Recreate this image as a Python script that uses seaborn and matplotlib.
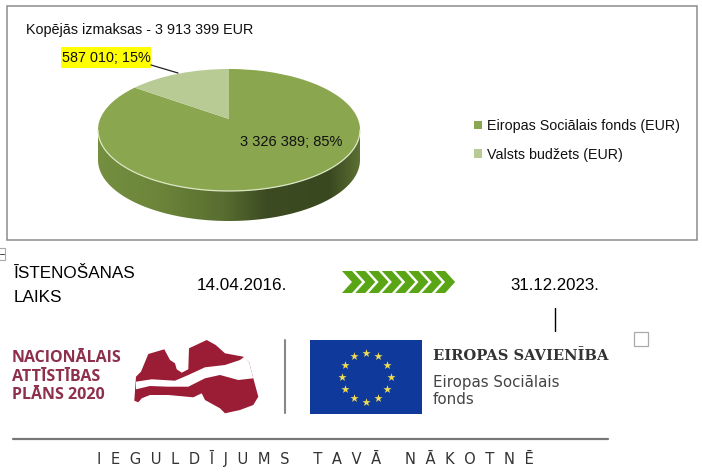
import numpy as np
import matplotlib
matplotlib.use('Agg')
import matplotlib.pyplot as plt
import seaborn as sns
from matplotlib.colors import LinearSegmentedColormap
from matplotlib.patches import Polygon, Rectangle
from matplotlib.transforms import Transform

# chart data
categories = ['Eiropas Sociālais fonds (EUR)', 'Valsts budžets (EUR)']
values = [3326389, 587010]
value_labels = ['3 326 389; 85%', '587 010; 15%']
total_label = 'Kopējās izmaksas - 3 913 399 EUR'
pie_colors = ['#8AA64E', '#B9CB95']

# pie geometry in image pixels
cx, cy = 229, 130
rx, ry = 131, 61
depth = 30


class PieTilt(Transform):
    # perspective of a unit circle, far side of the pie gets smaller
    input_dims = 2
    output_dims = 2
    k = 0.18

    def transform_non_affine(self, xy):
        xy = np.asarray(xy, dtype=float)
        u, v = xy[:, 0], xy[:, 1]
        w = 1 + self.k * v
        return np.column_stack([cx + 128.9 * u / w, cy - (61 * v + 11) / w])


sns.set_theme(style='white')
plt.rcParams['font.family'] = ['Liberation Sans', 'DejaVu Sans']

fig = plt.figure(figsize=(7.02, 4.72), dpi=100)
ax = fig.add_axes([0, 0, 1, 1])

wedges, _ = ax.pie(values, colors=pie_colors, startangle=90, counterclock=False)
ax.set_aspect('auto')
ax.set_xlim(0, 702)
ax.set_ylim(472, 0)
ax.axis('off')
for w in wedges:
    w.set_transform(PieTilt() + ax.transData)
    w.set_zorder(3)
    w.set_linewidth(0)

# frame around the chart
ax.add_patch(Rectangle((6.5, 5.5), 690, 234, fc='white', ec='#8C8C8C', lw=1.1, zorder=0))

# side of the pie
t = np.linspace(0, np.pi, 100)
ex = cx + rx * np.cos(t)
ey = cy + ry * np.sin(t)
band = np.column_stack([np.r_[ex, ex[::-1]], np.r_[ey, ey[::-1] + depth]])
side_cmap = LinearSegmentedColormap.from_list(
    'side', [(0, '#748F40'), (0.225, '#6C853A'), (0.48, '#586D30'), (0.645, '#3C4B22'),
             (0.885, '#3A4820'), (1, '#5B7033')])
side = ax.imshow(np.linspace(0, 1, 256)[None, :], cmap=side_cmap, aspect='auto',
                 extent=[cx - rx, cx + rx, cy + ry + depth, cy], zorder=2)
side.set_clip_path(Polygon(band, transform=ax.transData))
ax.set_xlim(0, 702)
ax.set_ylim(472, 0)
ax.plot(ex, ey, color='#DCE6C4', lw=0.9, zorder=4)

ax.text(26, 30, total_label, fontsize=10.4, color='#111111', va='center', zorder=5)
ax.text(240, 142, value_labels[0], fontsize=10.5, color='#111111', va='center', zorder=5)
ax.add_patch(Rectangle((61, 47), 90, 21, fc='#FFFF00', ec='none', zorder=5))
ax.text(62, 58, value_labels[1], fontsize=10.4, color='#111111', va='center', zorder=6)
ax.plot([151, 178], [65, 73], color='#222222', lw=0.9, zorder=5)

ax.legend(wedges, categories, loc='upper left', bbox_to_anchor=(474 / 702, 1 - 119 / 472),
          frameon=False, fontsize=10.3, handlelength=0.55, handleheight=0.55,
          handletextpad=0.35, labelspacing=1.03, borderpad=0, borderaxespad=0,
          labelcolor='#111111')

# timeline
ax.text(14, 273, 'ĪSTENOŠANAS', fontsize=12.3, color='black', va='center')
ax.text(14, 297, 'LAIKS', fontsize=12.3, color='black', va='center')
ax.text(197, 285, '14.04.2016.', fontsize=12.3, color='black', va='center')
ax.text(510, 285, '31.12.2023.', fontsize=12.1, color='black', va='center')
for i in range(8):
    x0 = 342 + i * 13.3
    ax.add_patch(Polygon([(x0, 271), (x0 + 10, 271), (x0 + 20, 282), (x0 + 10, 293),
                          (x0, 293), (x0 + 10, 282)], fc='#5AA516', ec='none'))
ax.plot([554.5, 554.5], [308, 331], color='black', lw=1)
ax.add_patch(Rectangle((634, 332), 14, 14, fc='white', ec='#AAAAAA', lw=0.9))
ax.add_patch(Rectangle((-1, 248), 6, 12, fc='white', ec='#AAAAAA', lw=0.8))
ax.plot([0, 4], [254, 254], color='#444444', lw=0.7)

# national plan logo
maroon = '#8E2F4C'
ax.text(12, 358, 'NACIONĀLAIS', fontsize=11.5, color=maroon, family='Open Sans', weight='bold', va='center')
ax.text(12, 377, 'ATTĪSTĪBAS', fontsize=11.5, color=maroon, family='Open Sans', weight='bold', va='center')
ax.text(12, 395, 'PLĀNS 2020', fontsize=11.5, color=maroon, family='Open Sans', weight='bold', va='center')
latvia = [(134.3, 400.7), (136, 376.7), (141, 371.7), (148.3, 354), (164.3, 349.3), (170, 360),
          (175, 363.3), (176.7, 369.3), (181.7, 372.7), (188.3, 369.3), (189, 348.3), (206.7, 340),
          (215.7, 345), (225, 353.3), (243.3, 356.7), (249, 361.7), (253.3, 378.3), (258.3, 396.7),
          (253.3, 405), (240, 410), (225, 413.3), (220, 408.3), (205, 400), (201.7, 393.3),
          (193.3, 397.3), (168.3, 395), (150, 395), (141.7, 398.3), (138.3, 402.3)]
ax.add_patch(Polygon(latvia, fc='#9B1C35', ec='none'))
ribbon = [(136, 381.7), (151.7, 379.3), (175, 380.7), (188.3, 375), (205, 367.3), (225, 365),
          (240, 360), (244.3, 356.7), (249, 361.7), (253.3, 378.3), (238.3, 380), (220, 375),
          (205, 378.3), (188.3, 386.7), (168.3, 386.7), (150, 386), (136, 389.3)]
ax.add_patch(Polygon(ribbon, fc='white', ec='none'))
ax.plot([285, 285], [340, 413], color='#888888', lw=1.5)

# EU logo
ax.add_patch(Rectangle((310, 340), 112, 74, fc='#0F3A9C', ec='none'))
a = np.deg2rad(np.arange(0, 360, 30))
ax.scatter(366 + 24.5 * np.cos(a), 377 + 24.5 * np.sin(a), marker='*', s=38, color='#F2DC50', linewidths=0, zorder=4)
ax.text(433, 356, 'EIROPAS SAVIENĪBA', fontsize=10.65, color='#333333', family='DejaVu Serif', weight='bold', va='center')
ax.text(433, 382, 'Eiropas Sociālais', fontsize=10.8, color='#444444', family='DejaVu Sans', va='center')
ax.text(433, 400, 'fonds', fontsize=10.8, color='#444444', family='DejaVu Sans', va='center')

ax.plot([13, 608], [439, 439], color='#777777', lw=1.6)
ax.text(97, 458, 'I  E  G  U  L  D  Ī  J  U  M  S     T  A  V  Ā     N  Ā  K  O  T  N  Ē',
        fontsize=10.6, color='#333333', family='DejaVu Sans', va='center')

fig.savefig('out.png', dpi=100)
